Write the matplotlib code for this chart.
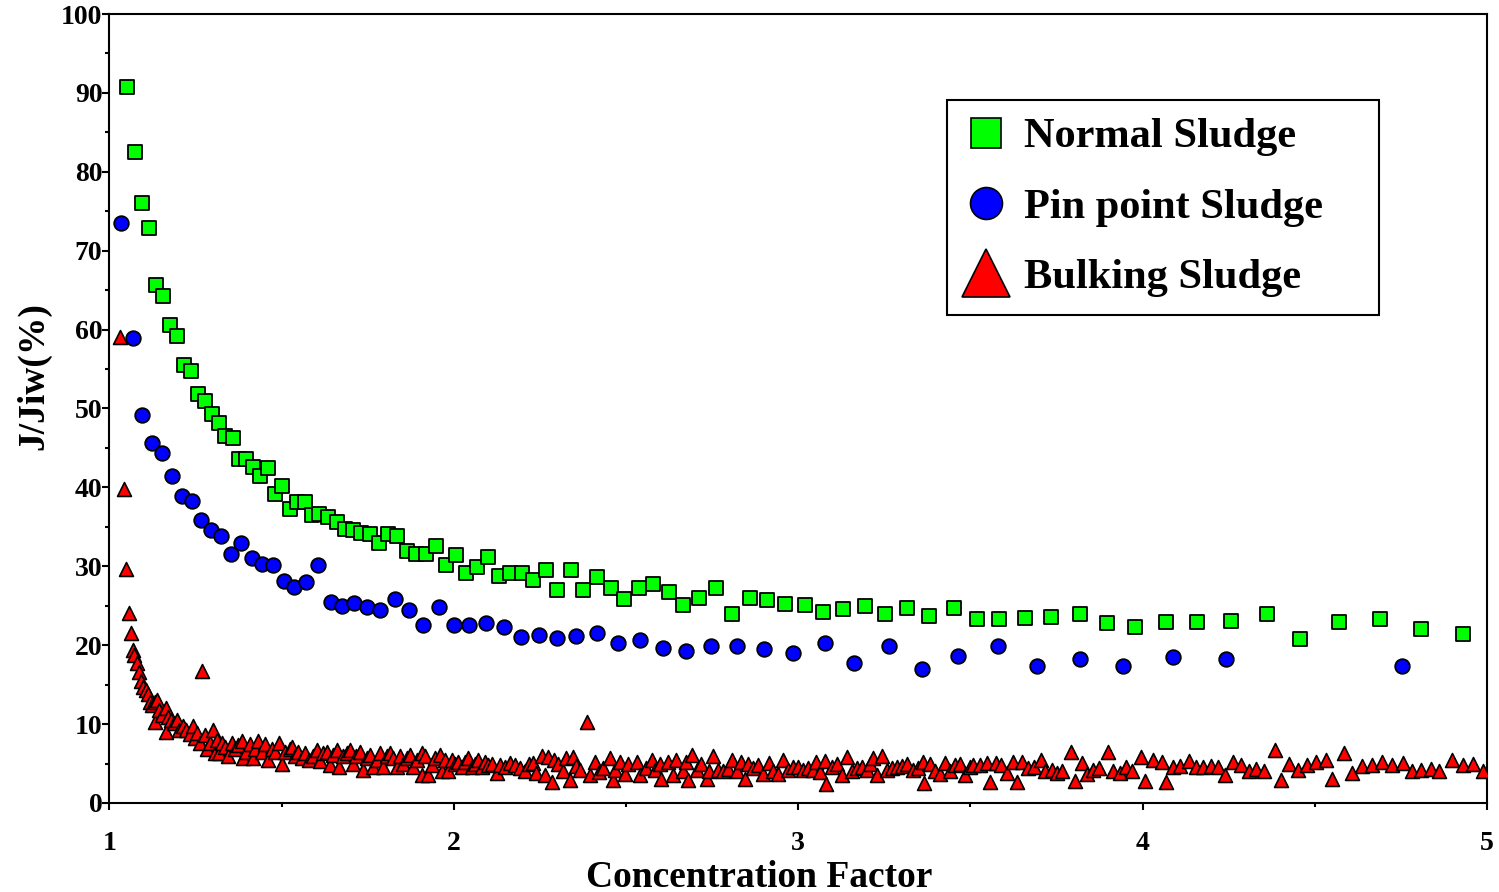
import matplotlib
matplotlib.use("Agg")
import matplotlib.pyplot as plt
from matplotlib.lines import Line2D
from matplotlib.ticker import MultipleLocator

# ---------------- data ----------------
normal = [(1.051,90.7),(1.074,82.5),(1.094,76.0),(1.115,72.9),(1.135,65.7),(1.155,64.2),(1.176,60.6),
          (1.196,59.2),(1.216,55.5),(1.237,54.8),(1.256,51.9),(1.277,50.9),(1.298,49.3),(1.317,48.1),
          (1.335,46.5),(1.358,46.3),(1.377,43.6),(1.398,43.6),(1.418,42.6),(1.438,41.4),(1.461,42.4),
          (1.481,39.1),(1.502,40.2),(1.523,37.3),(1.544,38.1),(1.569,38.2),(1.588,36.5),(1.609,36.6),
          (1.636,36.3),(1.660,35.6),(1.683,34.7),(1.706,34.6),(1.731,34.2),(1.756,34.1),(1.782,33.0),
          (1.809,34.1),(1.836,33.8),(1.863,31.9),(1.890,31.6),(1.919,31.5),(1.948,32.6),(1.977,30.1),
          (2.006,31.4),(2.035,29.1),(2.066,29.9),(2.098,31.2),(2.131,28.8),(2.163,29.1),(2.197,29.1),
          (2.231,28.3),(2.267,29.5),(2.301,27.0),(2.339,29.5),(2.376,27.0),(2.416,28.7),(2.455,27.3),
          (2.494,25.9),(2.537,27.3),(2.579,27.7),(2.624,26.7),(2.666,25.1),(2.713,26.0),(2.761,27.2),
          (2.808,24.0),(2.860,26.0),(2.910,25.7),(2.963,25.2),(3.019,25.1),(3.073,24.2),(3.130,24.6),
          (3.193,25.0),(3.252,24.0),(3.316,24.7),(3.380,23.7),(3.451,24.7),(3.519,23.3),(3.584,23.3),
          (3.658,23.5),(3.735,23.6),(3.817,24.0),(3.896,22.8),(3.979,22.3),(4.067,23.0),(4.158,22.9),
          (4.256,23.1),(4.362,23.9),(4.458,20.8),(4.569,22.9),(4.689,23.3),(4.808,22.1),(4.929,21.4)]

pinpoint = [(1.034,73.5),(1.067,58.9),(1.096,49.2),(1.124,45.6),(1.152,44.4),(1.181,41.4),(1.210,38.9),
            (1.239,38.3),(1.267,35.9),(1.295,34.6),(1.324,33.9),(1.352,31.6),(1.383,33.0),(1.413,31.0),
            (1.443,30.3),(1.474,30.2),(1.506,28.1),(1.537,27.4),(1.570,28.0),(1.607,30.1),(1.642,25.5),
            (1.676,25.0),(1.711,25.4),(1.749,24.9),(1.787,24.4),(1.830,25.9),(1.870,24.5),(1.911,22.5),
            (1.957,24.9),(2.000,22.5),(2.045,22.5),(2.093,22.8),(2.145,22.3),(2.194,21.1),(2.246,21.3),
            (2.300,20.9),(2.355,21.2),(2.415,21.6),(2.477,20.3),(2.542,20.7),(2.606,19.7),(2.674,19.3),
            (2.746,19.9),(2.822,19.9),(2.902,19.5),(2.984,19.0),(3.077,20.3),(3.163,17.7),(3.264,19.9),
            (3.358,17.0),(3.464,18.6),(3.579,19.9),(3.693,17.4),(3.817,18.3),(3.942,17.4),(4.088,18.5),
            (4.242,18.3),(4.754,17.4)]

bulking = [(1.031,59.1),(1.042,39.8),(1.048,29.7),(1.057,24.1),(1.063,21.5),(1.067,19.4),(1.072,18.8),
           (1.079,17.8),(1.086,16.6),(1.092,15.5),(1.098,14.7),(1.106,14.3),(1.113,13.8),(1.118,12.8),
           (1.125,12.4),(1.132,12.8),(1.132,10.3),(1.139,13.1),(1.145,11.8),(1.152,11.2),(1.164,12.1),
           (1.164,9.0),(1.171,10.9),(1.178,10.5),(1.187,10.1),(1.195,10.5),(1.203,9.3),(1.213,9.8),
           (1.222,9.3),(1.234,8.8),(1.242,9.7),(1.248,8.2),(1.255,8.9),(1.263,7.6),(1.269,16.7),
           (1.277,8.6),(1.284,6.9),(1.292,7.6),(1.301,9.3),(1.306,6.3),(1.313,8.0),(1.319,6.3),
           (1.326,7.6),(1.335,7.1),(1.345,5.9),(1.355,7.6),(1.364,6.9),(1.374,7.4),(1.384,7.8),
           (1.389,5.7),(1.398,6.5),(1.408,7.5),(1.416,5.7),(1.422,6.9),(1.432,7.8),(1.442,6.5),
           (1.451,7.5),(1.461,5.5),(1.471,6.9),(1.480,6.5),(1.493,7.6),(1.500,5.0),(1.510,6.5),
           (1.524,6.9),(1.529,7.1),(1.539,6.0),(1.548,6.5),(1.558,5.7),(1.568,6.3),(1.580,5.5),
           (1.592,5.9),(1.603,6.7),(1.611,5.3),(1.621,6.3),(1.631,6.5),(1.640,4.8),(1.650,6.1),
           (1.660,6.7),(1.667,4.6),(1.679,5.9),(1.689,6.3),(1.698,6.7),(1.708,5.0),(1.717,5.9),
           (1.727,6.5),(1.737,4.2),(1.747,5.7),(1.756,6.1),(1.766,4.6),(1.776,5.5),(1.785,6.3),
           (1.795,4.6),(1.805,5.9),(1.814,6.3),(1.824,5.7),(1.834,4.6),(1.843,5.9),(1.853,5.0),
           (1.863,5.7),(1.873,6.1),(1.882,4.6),(1.892,5.5),(1.907,6.3),(1.909,3.5),(1.916,5.9),
           (1.926,3.5),(1.936,4.8),(1.945,5.7),(1.960,6.1),(1.965,4.0),(1.974,5.5),(1.984,4.0),
           (1.994,5.5),(2.003,5.0),(2.013,5.2),(2.023,4.6),(2.032,5.2),(2.042,5.7),(2.052,4.6),
           (2.061,5.0),(2.071,5.5),(2.081,4.6),(2.090,5.2),(2.100,4.8),(2.110,5.0),(2.124,3.8),
           (2.134,4.8),(2.148,4.6),(2.163,5.1),(2.177,4.8),(2.192,4.4),(2.206,4.0),(2.219,5.0),
           (2.231,5.1),(2.240,3.8),(2.255,6.0),(2.264,3.6),(2.274,5.8),(2.284,2.7),(2.290,5.5),
           (2.303,5.0),(2.318,4.1),(2.327,5.7),(2.337,2.9),(2.345,5.8),(2.355,4.7),(2.366,4.2),
           (2.387,10.3),(2.395,3.6),(2.409,5.2),(2.422,3.9),(2.434,4.4),(2.453,5.7),(2.463,2.9),
           (2.467,4.2),(2.482,5.2),(2.497,3.7),(2.506,5.0),(2.531,5.2),(2.540,3.6),(2.559,4.4),
           (2.574,5.5),(2.584,4.2),(2.599,4.9),(2.603,3.1),(2.622,5.2),(2.637,3.6),(2.646,5.4),
           (2.664,4.1),(2.674,5.2),(2.681,2.9),(2.692,6.1),(2.705,4.2),(2.719,5.0),(2.734,3.1),
           (2.742,4.1),(2.753,5.9),(2.768,4.2),(2.782,4.1),(2.797,4.3),(2.808,5.4),(2.823,4.0),
           (2.833,5.2),(2.845,3.0),(2.855,5.0),(2.869,4.4),(2.884,4.8),(2.898,3.7),(2.916,5.1),
           (2.927,4.1),(2.942,3.7),(2.956,5.5),(2.971,4.2),(2.985,4.5),(3.000,4.6),(3.015,4.2),
           (3.029,4.4),(3.044,4.2),(3.053,5.2),(3.063,3.9),(3.077,5.3),(3.082,2.4),(3.097,4.6),
           (3.112,5.0),(3.126,3.6),(3.143,5.8),(3.155,4.0),(3.170,4.4),(3.184,4.6),(3.199,4.2),
           (3.208,5.0),(3.218,5.7),(3.228,3.6),(3.244,6.0),(3.257,4.2),(3.271,4.4),(3.286,4.6),
           (3.300,4.7),(3.315,4.9),(3.334,4.2),(3.349,4.4),(3.361,5.2),(3.366,2.5),(3.382,5.0),
           (3.396,4.1),(3.411,3.7),(3.425,5.1),(3.440,4.0),(3.454,4.8),(3.469,5.0),(3.483,3.6),
           (3.498,4.6),(3.507,4.8),(3.527,4.8),(3.547,5.1),(3.557,2.7),(3.573,5.1),(3.590,4.8),
           (3.605,3.8),(3.623,5.2),(3.634,2.7),(3.650,5.2),(3.666,4.4),(3.685,4.6),(3.706,5.5),
           (3.718,4.0),(3.736,4.2),(3.750,3.8),(3.767,4.0),(3.791,6.4),(3.804,2.8),(3.823,5.1),
           (3.838,3.7),(3.855,4.2),(3.874,4.4),(3.899,6.4),(3.915,4.1),(3.933,3.8),(3.952,4.6),
           (3.970,4.1),(3.994,5.8),(4.006,2.8),(4.029,5.5),(4.055,5.2),(4.067,2.6),(4.087,4.5),
           (4.110,4.7),(4.134,5.3),(4.155,4.5),(4.176,4.5),(4.198,4.7),(4.220,4.5),(4.240,3.5),
           (4.263,5.2),(4.287,4.8),(4.309,4.0),(4.330,4.3),(4.352,4.1),(4.384,6.7),(4.401,2.9),
           (4.426,4.9),(4.450,4.2),(4.476,4.8),(4.503,5.2),(4.532,5.4),(4.550,3.0),(4.585,6.3),
           (4.607,3.8),(4.636,4.7),(4.665,4.8),(4.694,5.2),(4.725,4.8),(4.755,5.1),(4.781,4.1),
           (4.809,4.2),(4.837,4.3),(4.862,4.1),(4.898,5.5),(4.929,4.8),(4.960,4.9),(4.989,4.1)]

series_labels = ["Normal Sludge", "Pin point Sludge", "Bulking Sludge"]
x_ticks = [1, 2, 3, 4, 5]
y_ticks = [0, 10, 20, 30, 40, 50, 60, 70, 80, 90, 100]

normal_x, normal_y = zip(*normal)
pin_x, pin_y = zip(*pinpoint)
bulk_x, bulk_y = zip(*bulking)

# ---------------- plot ----------------
plt.rcParams['font.family'] = ['Liberation Serif', 'DejaVu Serif']
plt.rcParams['font.weight'] = 'bold'

fig = plt.figure(figsize=(14.99, 8.92), dpi=100)
ax = fig.add_axes([0.073, 0.0998, 0.919, 0.8845])

ax.scatter(normal_x, normal_y, marker='s', s=10**2, c='#00FF00', edgecolors='black', linewidths=1.3, zorder=3)
ax.scatter(pin_x, pin_y, marker='o', s=10.5**2, c='#0000FF', edgecolors='black', linewidths=1.3, zorder=3)
ax.scatter(bulk_x, bulk_y, marker='^', s=10**2, c='#FF0000', edgecolors='black', linewidths=1.2, zorder=4)

ax.set_xlim(1, 5)
ax.set_ylim(0, 100)
ax.set_xticks(x_ticks)
ax.set_yticks(y_ticks)
ax.xaxis.set_minor_locator(MultipleLocator(0.5))
ax.yaxis.set_minor_locator(MultipleLocator(5))
ax.tick_params(axis='both', which='major', direction='out', length=5, width=1.5,
               labelsize=20, top=False, right=False)
ax.tick_params(axis='both', which='minor', direction='out', length=3, width=1.5,
               top=False, right=False)
ax.tick_params(axis='x', pad=15)
ax.tick_params(axis='y', pad=0)
for lab in ax.get_xticklabels() + ax.get_yticklabels():
    lab.set_fontweight('bold')
for sp in ax.spines.values():
    sp.set_linewidth(1.5)

ax.set_xlabel("Concentration Factor", fontsize=27, fontweight='bold')
ax.xaxis.set_label_coords(0.4715, -0.072)
ax.xaxis.label.set_va('top')
ax.set_ylabel("J/Jiw(%)", fontsize=27, fontweight='bold')
ax.yaxis.set_label_coords(-0.055, 0.541)
ax.yaxis.label.set_va('center')

handles = [
    Line2D([], [], linestyle='none', marker='s', markersize=21, markerfacecolor='#00FF00',
           markeredgecolor='black', markeredgewidth=1.2),
    Line2D([], [], linestyle='none', marker='o', markersize=23, markerfacecolor='#0000FF',
           markeredgecolor='black', markeredgewidth=1.2),
    Line2D([], [], linestyle='none', marker='^', markersize=34, markerfacecolor='#FF0000',
           markeredgecolor='black', markeredgewidth=1.2),
]
leg = ax.legend(handles, series_labels, loc='upper left',
                bbox_to_anchor=(0.608, 0.35, 0.3136, 0.541), mode='expand',
                frameon=True, fancybox=False, edgecolor='black', framealpha=1,
                prop={'size': 30.5, 'weight': 'bold'}, handlelength=1.0, handletextpad=0.4,
                labelspacing=0.75, borderpad=0.42, borderaxespad=0)
leg.get_frame().set_linewidth(1.5)

fig.savefig("out.png", dpi=100)
